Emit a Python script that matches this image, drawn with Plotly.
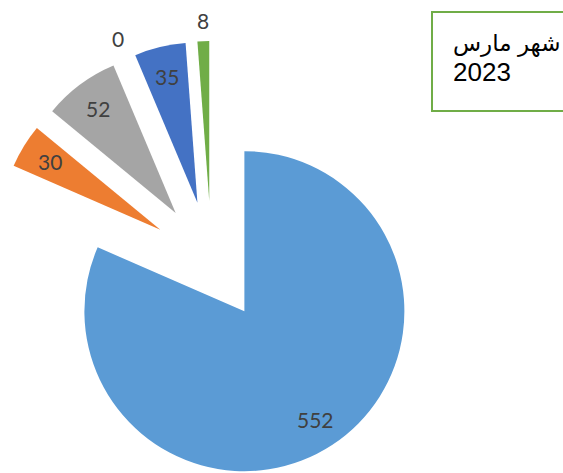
import math
import plotly.graph_objects as go

# ---- data ----
categories = ["فئة 1", "فئة 2", "فئة 3", "فئة 4", "فئة 5", "فئة 6"]
values = [552, 30, 52, 0, 35, 8]
slice_colors = ["#5B9BD5", "#ED7D31", "#A5A5A5", "#FFC000", "#4472C4", "#70AD47"]
label_inside = [True, True, True, False, True, False]
title_lines = ["شهر مارس", "2023"]

# ---- geometry / style ----
W, H = 563, 473
CX, CY = 211.5, 261    # pie centre before explosion (px)
R = 160                # pie radius (px)
PULL_PX = 60           # explosion distance of every slice (px)
IN_FRAC = 0.81         # inside label distance from slice apex (fraction of R)
OUT_GAP = 21           # outside label distance beyond the rim (px)
LABEL_FONT = dict(family="Lato, Carlito, Open Sans, sans-serif", size=21, color="#404040")

total = sum(values)
fig = go.Figure()
annotations = []
cum = 0.0
for i, v in enumerate(values):
    mid = (cum + v / 2.0) / total * 2 * math.pi   # clockwise from 12 o'clock
    cum += v
    dx, dy = math.sin(mid), -math.cos(mid)
    ax, ay = CX + PULL_PX * dx, CY + PULL_PX * dy  # exploded apex of this slice
    colors = [c if j == i else "rgba(0,0,0,0)" for j, c in enumerate(slice_colors)]
    x0, x1 = max(0.0, (ax - R) / W), min(1.0, (ax + R) / W)
    y0, y1 = max(0.0, (H - ay - R) / H), min(1.0, (H - ay + R) / H)
    fig.add_trace(go.Pie(
        labels=categories, values=values, sort=False, direction="clockwise", rotation=0,
        marker=dict(colors=colors, line=dict(width=0)),
        textinfo="none", hoverinfo="skip", showlegend=False,
        domain=dict(x=[x0, x1], y=[y0, y1]),
    ))
    dist = IN_FRAC * R if label_inside[i] else R + OUT_GAP
    lx, ly = ax + dist * dx, ay + dist * dy
    annotations.append(dict(
        text=str(v), x=lx / W, y=1 - ly / H, xref="paper", yref="paper",
        xanchor="center", yanchor="middle", showarrow=False, font=LABEL_FONT,
    ))

# title text box (its right side is cut by the chart edge as in the reference)
annotations.append(dict(
    text=title_lines[0] + "<br><span style='font-size:26px'>" + title_lines[1] + "</span>",
    x=451 / W, y=1 - 59 / H, xref="paper", yref="paper",
    xanchor="left", yanchor="middle", align="left", showarrow=False,
    font=dict(family="Arial, Liberation Sans, DejaVu Sans, sans-serif", size=23, color="#000000"),
))

fig.update_layout(
    width=W, height=H,
    margin=dict(l=0, r=0, t=0, b=0),
    paper_bgcolor="white", plot_bgcolor="white",
    annotations=annotations,
    shapes=[dict(
        type="rect", xref="paper", yref="paper",
        x0=432 / W, x1=(W + 30) / W, y0=1 - 111 / H, y1=1 - 12 / H,
        line=dict(color="#70AD47", width=2), fillcolor="rgba(0,0,0,0)", layer="below",
    )],
)

fig.write_html(
    "out.html",
    config={"displayModeBar": False},
    post_script="document.body.style.margin='0';document.body.style.overflow='hidden';",
)
